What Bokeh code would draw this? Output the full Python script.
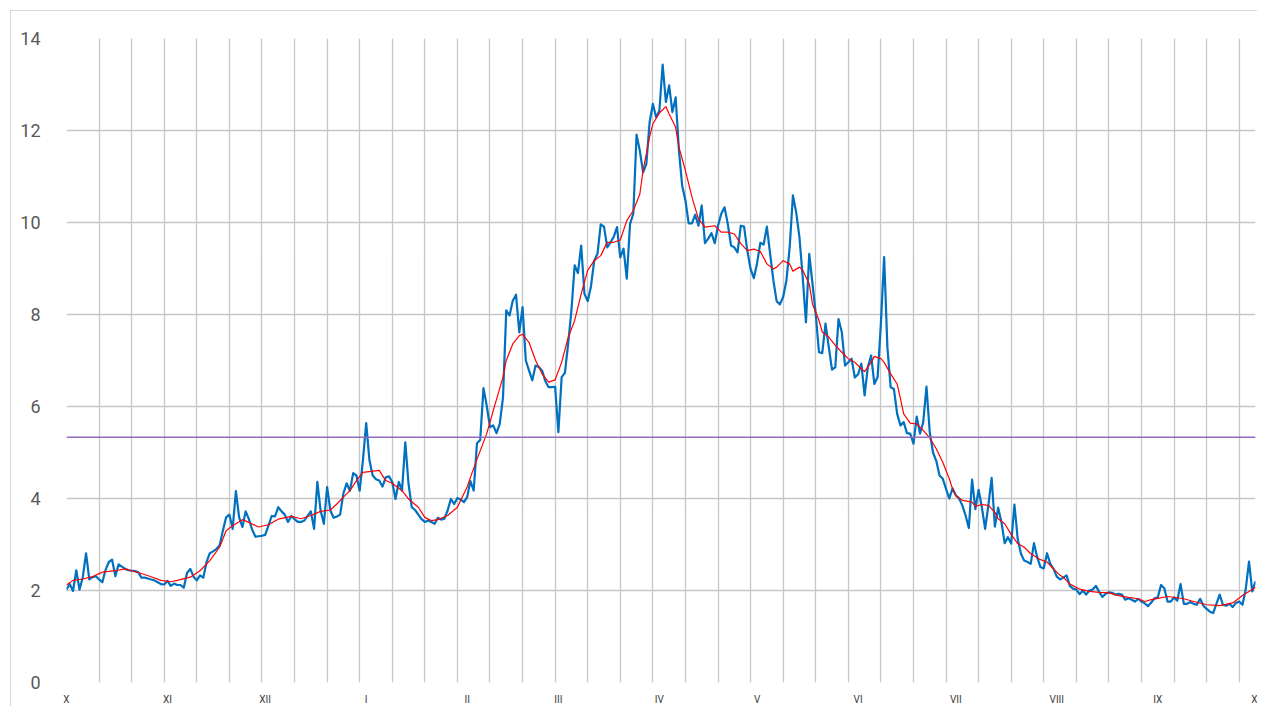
from bokeh.plotting import figure
from bokeh.models import Range1d, FixedTicker, Span, ColumnDataSource
from bokeh.embed import file_html
from bokeh.resources import INLINE

# daily values, one list per month (October .. September, plus 1 October)
oct_vals = [2.02, 2.14, 1.99, 2.44, 2.02, 2.29, 2.81, 2.24, 2.29, 2.31, 2.24, 2.18, 2.45, 2.62, 2.67, 2.31,
            2.57, 2.52, 2.47, 2.44, 2.43, 2.42, 2.40, 2.28, 2.28, 2.26, 2.24, 2.22, 2.18, 2.14, 2.13]
nov_vals = [2.21, 2.10, 2.15, 2.12, 2.12, 2.06, 2.38, 2.47, 2.30, 2.22, 2.33, 2.28, 2.62, 2.81, 2.85, 2.90,
            2.98, 3.30, 3.59, 3.65, 3.34, 4.16, 3.59, 3.38, 3.72, 3.55, 3.32, 3.17, 3.18, 3.19]
dec_vals = [3.21, 3.41, 3.62, 3.61, 3.81, 3.72, 3.65, 3.49, 3.62, 3.55, 3.49, 3.49, 3.52, 3.62, 3.72, 3.34,
            4.36, 3.74, 3.45, 4.25, 3.74, 3.58, 3.61, 3.65, 4.11, 4.33, 4.17, 4.55, 4.50, 4.17, 4.83]
jan_vals = [5.64, 4.83, 4.50, 4.42, 4.39, 4.26, 4.46, 4.48, 4.36, 3.99, 4.36, 4.17, 5.22, 4.32, 3.81, 3.75,
            3.65, 3.55, 3.49, 3.52, 3.49, 3.45, 3.58, 3.54, 3.56, 3.74, 3.99, 3.88, 4.01, 3.98, 3.92]
feb_vals = [4.03, 4.38, 4.17, 5.20, 5.27, 6.40, 6.02, 5.55, 5.59, 5.42, 5.62, 6.20, 8.09, 7.98, 8.30, 8.43,
            7.61, 8.16, 7.00, 6.78, 6.57, 6.89, 6.86, 6.78, 6.55, 6.42, 6.42, 6.43]
mar_vals = [5.44, 6.64, 6.73, 7.36, 8.09, 9.07, 8.90, 9.50, 8.45, 8.29, 8.61, 9.17, 9.32, 9.96, 9.91, 9.46,
            9.57, 9.69, 9.90, 9.24, 9.43, 8.78, 9.97, 10.19, 11.91, 11.56, 11.09, 11.27, 12.18, 12.58, 12.29]
apr_vals = [12.43, 13.43, 12.62, 12.98, 12.40, 12.72, 11.57, 10.80, 10.48, 9.98, 9.98, 10.17, 9.93, 10.37,
            9.55, 9.65, 9.77, 9.55, 9.93, 10.19, 10.33, 9.97, 9.50, 9.46, 9.35, 9.93, 9.91, 9.39, 8.99, 8.79]
may_vals = [9.12, 9.56, 9.52, 9.91, 9.32, 8.74, 8.29, 8.22, 8.38, 8.74, 9.46, 10.59, 10.22, 9.68, 8.81, 7.83,
            9.32, 8.67, 8.01, 7.18, 7.16, 7.80, 7.29, 6.80, 6.85, 7.90, 7.62, 6.89, 6.96, 7.04, 6.63]
jun_vals = [6.70, 6.93, 6.24, 6.86, 7.11, 6.49, 6.64, 7.80, 9.25, 7.29, 6.42, 6.38, 5.84, 5.59, 5.66, 5.42,
            5.41, 5.19, 5.78, 5.41, 5.66, 6.43, 5.44, 5.00, 4.82, 4.50, 4.43, 4.21, 4.00, 4.22]
jul_vals = [4.07, 4.00, 3.85, 3.63, 3.36, 4.41, 3.77, 4.19, 3.81, 3.34, 3.85, 4.45, 3.39, 3.80, 3.49, 3.03,
            3.16, 3.02, 3.87, 3.12, 2.80, 2.65, 2.62, 2.58, 3.03, 2.72, 2.51, 2.48, 2.81, 2.58, 2.47]
aug_vals = [2.30, 2.24, 2.28, 2.33, 2.10, 2.04, 2.02, 1.92, 2.00, 1.91, 2.00, 2.02, 2.10, 1.97, 1.86, 1.93,
            1.96, 1.95, 1.91, 1.93, 1.91, 1.80, 1.83, 1.80, 1.76, 1.82, 1.76, 1.72, 1.66, 1.74, 1.83]
sep_vals = [1.85, 2.12, 2.05, 1.76, 1.76, 1.85, 1.78, 2.14, 1.71, 1.71, 1.75, 1.71, 1.69, 1.82, 1.67, 1.60,
            1.54, 1.51, 1.71, 1.91, 1.69, 1.67, 1.71, 1.64, 1.73, 1.76, 1.69, 2.03, 2.63, 1.98]
oct_end_vals = [2.20]

# smoothed (red) curve: day index and value
trend_days = [0, 2, 5, 8, 11, 15, 18, 20, 23, 26, 29, 32, 34, 38, 41, 44, 47, 49, 51, 54, 56, 59, 62, 65, 69,
              72, 75, 78, 81, 83, 85, 87, 89, 91, 96, 98, 100, 103, 105, 108, 110, 112, 114, 117, 120, 121,
              123, 124, 126, 129, 131, 134, 135, 137, 139, 140, 142, 144, 146, 148, 150, 152, 154, 156, 158,
              160, 162, 164, 166, 168, 170, 172, 174, 176, 177, 179, 180, 182, 184, 185, 187, 188, 190, 192,
              194, 196, 199, 201, 203, 205, 207, 209, 211, 213, 215, 217, 218, 220, 222, 223, 225, 226, 228,
              229, 231, 232, 234, 236, 238, 240, 242, 244, 245, 247, 248, 250, 251, 253, 255, 256, 257, 259,
              261, 263, 265, 267, 269, 271, 272, 273, 275, 278, 279, 281, 283, 285, 286, 288, 290, 292, 294,
              296, 299, 301, 303, 305, 306, 308, 311, 314, 317, 320, 323, 326, 329, 331, 333, 335, 338, 343,
              346, 350, 354, 358, 361, 364, 365]
trend_vals = [2.12, 2.22, 2.25, 2.30, 2.40, 2.43, 2.47, 2.43, 2.37, 2.30, 2.22, 2.19, 2.22, 2.29, 2.43, 2.65,
              2.94, 3.30, 3.41, 3.54, 3.48, 3.38, 3.43, 3.55, 3.61, 3.56, 3.63, 3.72, 3.75, 3.88, 4.03, 4.17,
              4.39, 4.57, 4.61, 4.39, 4.33, 4.17, 3.99, 3.81, 3.59, 3.52, 3.54, 3.63, 3.81, 3.96, 4.25, 4.46,
              4.85, 5.41, 5.91, 6.64, 7.00, 7.36, 7.54, 7.57, 7.39, 7.00, 6.71, 6.53, 6.58, 6.96, 7.50, 7.87,
              8.45, 8.96, 9.17, 9.28, 9.57, 9.57, 9.62, 10.04, 10.26, 10.62, 11.13, 11.86, 12.14, 12.38, 12.52,
              12.36, 12.07, 11.64, 11.13, 10.55, 10.08, 9.90, 9.93, 9.79, 9.79, 9.75, 9.54, 9.39, 9.42, 9.37,
              9.10, 8.99, 9.03, 9.17, 9.10, 8.94, 9.03, 8.96, 8.67, 8.23, 7.87, 7.62, 7.51, 7.33, 7.18, 7.04,
              6.96, 6.82, 6.76, 6.96, 7.09, 7.04, 6.96, 6.71, 6.49, 6.17, 5.84, 5.64, 5.62, 5.48, 5.32, 5.08,
              4.79, 4.43, 4.21, 4.06, 3.96, 3.92, 3.83, 3.87, 3.85, 3.70, 3.56, 3.45, 3.22, 3.02, 2.94, 2.80,
              2.67, 2.62, 2.47, 2.33, 2.29, 2.14, 2.03, 1.98, 1.96, 1.95, 1.89, 1.85, 1.82, 1.76, 1.80, 1.83,
              1.87, 1.82, 1.76, 1.69, 1.67, 1.73, 1.89, 2.02, 2.07]

reference_level = 5.33

month_start_days = [0, 31, 61, 92, 123, 151, 182, 212, 243, 273, 304, 335, 365]
month_labels = ["X", "XI", "XII", "I", "II", "III", "IV", "V", "VI", "VII", "VIII", "IX", "X"]
y_ticks = [0, 2, 4, 6, 8, 10, 12, 14]

values = (oct_vals + nov_vals + dec_vals + jan_vals + feb_vals + mar_vals + apr_vals + may_vals +
          jun_vals + jul_vals + aug_vals + sep_vals + oct_end_vals)
days = list(range(len(values)))

src = ColumnDataSource(dict(day=days, value=values))
trend_src = ColumnDataSource(dict(day=trend_days, value=trend_vals))

p = figure(width=1247, height=696, output_backend="svg", toolbar_location=None,
           x_range=Range1d(0, 365), y_range=Range1d(0, 14),
           min_border_left=55, min_border_right=3, min_border_top=27, min_border_bottom=25)
p.outline_line_color = None
p.background_fill_color = "white"
p.border_fill_color = "white"
p.styles = {"margin-top": "10px", "margin-left": "10px",
            "border-top": "1px solid #d9d9d9", "border-left": "1px solid #d9d9d9"}

GRID = "#c6c6c6"
p.xgrid.ticker = FixedTicker(ticks=list(range(0, 361, 10)) + [365])
p.xgrid.grid_line_color = GRID
p.xgrid.grid_line_width = 1.3
p.ygrid.ticker = FixedTicker(ticks=y_ticks)
p.ygrid.grid_line_color = GRID
p.ygrid.grid_line_width = 1.6

p.xaxis.ticker = FixedTicker(ticks=month_start_days)
p.xaxis.major_label_overrides = {d: lab for d, lab in zip(month_start_days, month_labels)}
p.xaxis.axis_line_color = None
p.xaxis.major_tick_line_color = None
p.xaxis.minor_tick_line_color = None
p.xaxis.major_label_standoff = 5
p.xaxis.major_label_text_font = "Roboto"
p.xaxis.major_label_text_font_size = "10px"
p.xaxis.major_label_text_color = "#404040"

p.yaxis.ticker = FixedTicker(ticks=y_ticks)
p.yaxis.axis_line_color = None
p.yaxis.major_tick_line_color = None
p.yaxis.minor_tick_line_color = None
p.yaxis.major_label_standoff = 20
p.yaxis.major_label_text_font = "Roboto"
p.yaxis.major_label_text_font_size = "18px"
p.yaxis.major_label_text_color = "#595959"

p.add_layout(Span(location=reference_level, dimension="width",
                  line_color="#8f6cc0", line_width=1.6))

p.line("day", "value", source=src, line_color="#0070c0", line_width=2.2, line_join="round")
p.line("day", "value", source=trend_src, line_color="#ff0000", line_width=1.2, line_join="round")

open("out.html", "w").write(file_html(p, INLINE))
